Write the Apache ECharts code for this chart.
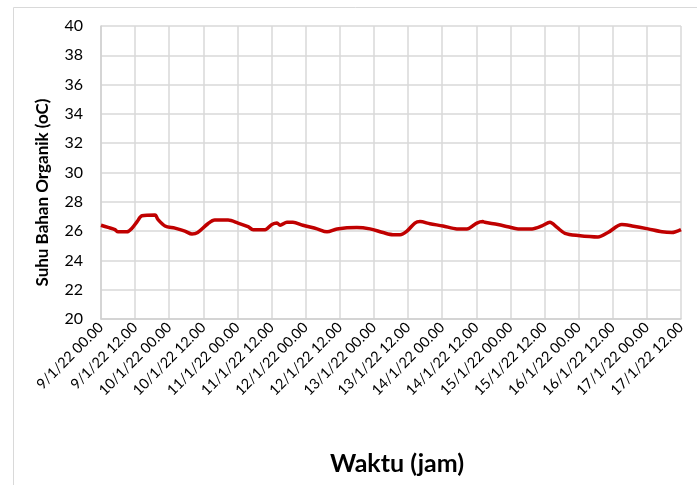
<!DOCTYPE html>
<html>
<head>
<meta charset="utf-8">
<script src="https://cdn.jsdelivr.net/npm/echarts@6/dist/echarts.min.js"></script>
<style>
  html, body { margin: 0; padding: 0; background: #fff; }
  #chart { width: 697px; height: 485px; }
</style>
</head>
<body>
<div id="chart"></div>
<script>
// jam sejak 9/1/22 00.00
var hours = [0, 2.5, 4.9, 6, 9.1, 10.9, 12.7, 14.4, 19, 20, 22.5, 26, 29.5, 32, 34, 37.6, 40, 44.7,
  48.2, 51.7, 53.5, 57.7, 60.1, 61.9, 63, 65.4, 67.5, 71, 76, 79.5, 83, 90, 94.6, 99.2, 102.7,
  105.2, 107.6, 110.4, 112.2, 115.7, 120.3, 125.2, 128.7, 132.2, 134.3, 135, 139.6, 143.1,
  146.7, 151.6, 155.1, 157.9, 160.4, 163.2, 167.8, 174.8, 178.3, 183.2, 186.8, 192.4, 197.3,
  200.8, 204];
// suhu bahan organik (oC)
var suhu = [26.4, 26.25, 26.1, 25.95, 25.95, 26.2, 26.65, 27.05, 27.1, 26.8, 26.35, 26.2, 26.0,
  25.8, 25.9, 26.5, 26.75, 26.75, 26.55, 26.3, 26.1, 26.1, 26.45, 26.55, 26.4, 26.6, 26.6, 26.4,
  26.15, 25.95, 26.15, 26.25, 26.15, 25.9, 25.75, 25.75, 26.0, 26.55, 26.65, 26.5, 26.35,
  26.15, 26.15, 26.55, 26.65, 26.6, 26.45, 26.3, 26.15, 26.15, 26.35, 26.6, 26.25, 25.85,
  25.7, 25.6, 25.9, 26.45, 26.35, 26.15, 25.95, 25.9, 26.1];
var tickLabels = ['9/1/22 00.00', '9/1/22 12.00', '10/1/22 00.00', '10/1/22 12.00',
  '11/1/22 00.00', '11/1/22 12.00', '12/1/22 00.00', '12/1/22 12.00', '13/1/22 00.00',
  '13/1/22 12.00', '14/1/22 00.00', '14/1/22 12.00', '15/1/22 00.00', '15/1/22 12.00',
  '16/1/22 00.00', '16/1/22 12.00', '17/1/22 00.00', '17/1/22 12.00'];

var points = [];
for (var i = 0; i < hours.length; i++) {
  points.push([hours[i], suhu[i]]);
}

var font = 'Lato, "Open Sans", sans-serif';
var chart = echarts.init(document.getElementById('chart'));
chart.setOption({
  animation: false,
  graphic: [{
    type: 'rect',
    shape: { x: 13.5, y: 7.5, width: 700, height: 500 },
    style: { fill: 'none', stroke: '#d9d9d9', lineWidth: 1 },
    silent: true
  }],
  grid: { left: 101, right: 16, top: 26, bottom: 166, containLabel: false },
  xAxis: {
    type: 'value',
    min: 0,
    max: 204,
    interval: 12,
    name: 'Waktu (jam)',
    nameLocation: 'middle',
    nameGap: 132,
    nameTextStyle: { fontFamily: font, fontSize: 25, fontWeight: 'bold', color: '#000', padding: [0, 0, 0, 12] },
    axisLine: { show: true, lineStyle: { color: '#d0d0d0', width: 1.5 } },
    axisTick: { show: false },
    splitLine: { show: true, lineStyle: { color: '#d9d9d9', width: 1.5 } },
    axisLabel: {
      rotate: 45,
      margin: 6,
      fontFamily: font,
      fontSize: 14.5,
      color: '#000',
      formatter: function (v) { return tickLabels[Math.round(v / 12)]; }
    }
  },
  yAxis: {
    type: 'value',
    min: 20,
    max: 40,
    interval: 2,
    name: 'Suhu Bahan Organik (oC)',
    nameLocation: 'middle',
    nameGap: 50,
    nameTextStyle: { fontFamily: font, fontSize: 17, fontWeight: 'bold', color: '#000', padding: [0, 40, 0, 0] },
    axisLine: { show: true, lineStyle: { color: '#d0d0d0', width: 1.5 } },
    axisTick: { show: false },
    splitLine: { show: true, lineStyle: { color: '#d9d9d9', width: 1.5 } },
    axisLabel: { margin: 18, fontFamily: font, fontSize: 16, color: '#000' }
  },
  series: [{
    type: 'line',
    data: points,
    symbol: 'none',
    smooth: 0.3,
    lineStyle: { color: '#c00000', width: 3.5 }
  }]
});
</script>
</body>
</html>
